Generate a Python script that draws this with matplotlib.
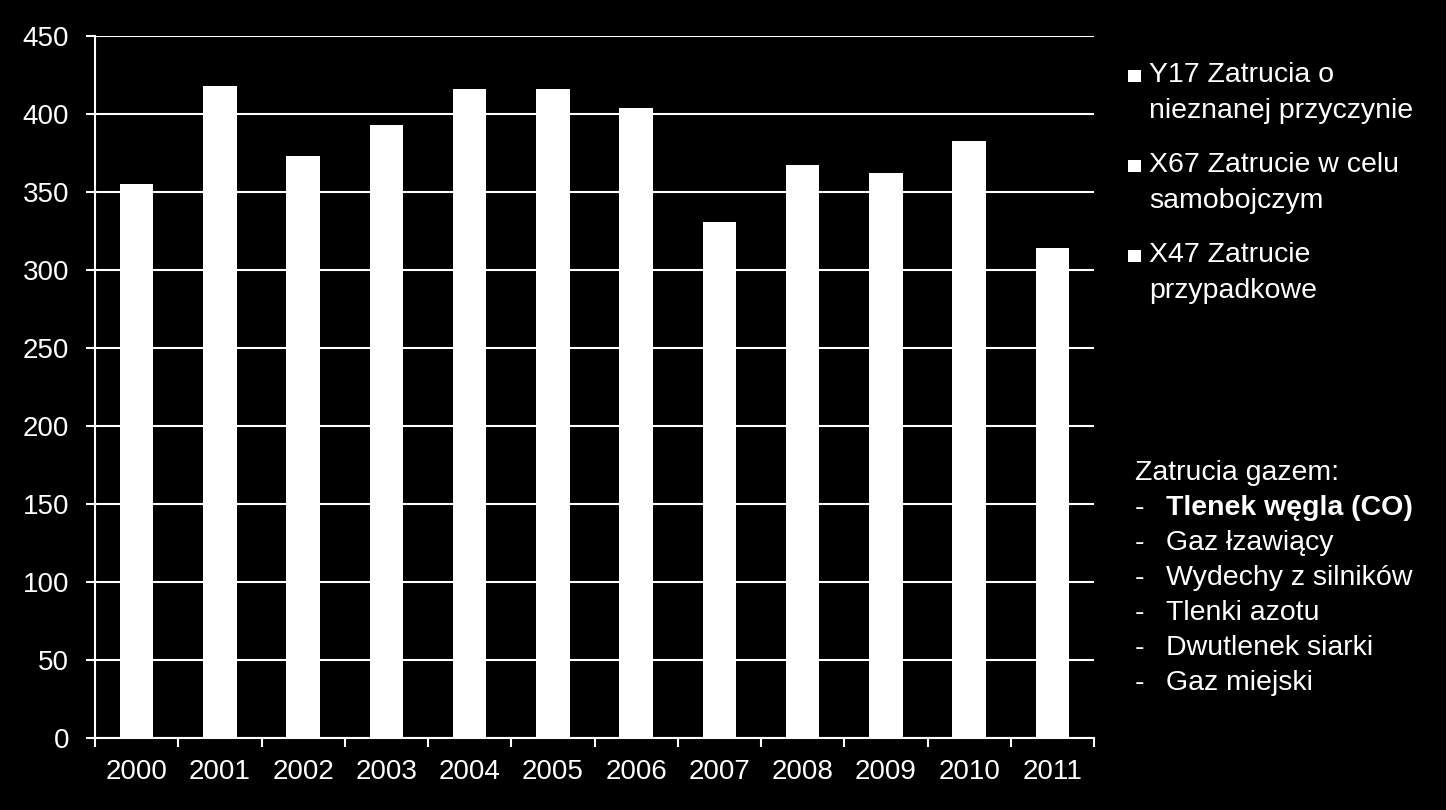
import matplotlib.pyplot as plt
from matplotlib.patches import Rectangle

# dane
lata = ['2000', '2001', '2002', '2003', '2004', '2005', '2006', '2007', '2008', '2009', '2010', '2011']
zatrucia = [355, 418, 373, 393, 416, 416, 404, 331, 367, 362, 383, 314]
serie = ['Y17 Zatrucia o\nnieznanej przyczynie',
         'X67 Zatrucie w celu\nsamobojczym',
         'X47 Zatrucie\nprzypadkowe']
gazy = ['Tlenek węgla (CO)', 'Gaz łzawiący', 'Wydechy z silników',
        'Tlenki azotu', 'Dwutlenek siarki', 'Gaz miejski']

plt.rcParams['font.family'] = ['Liberation Sans', 'DejaVu Sans']
W, H = 1446, 810
FS = 20     # etykiety osi
FS_LEG = 20.5  # legenda i opis

fig = plt.figure(figsize=(W / 100, H / 100), dpi=100, facecolor='black')
ax = fig.add_axes([95 / W, 1 - 738 / H, 999 / W, 702 / H])
ax.set_facecolor('black')

x = range(len(lata))
ax.bar(x, zatrucia, width=0.4, color='white', zorder=3)

ax.set_ylim(0, 450)
ax.set_xlim(-0.5, len(lata) - 0.5)
ax.set_yticks(range(0, 451, 50))
ax.yaxis.grid(True, color='white', linewidth=1.5)
ax.set_axisbelow(True)

# podzialki osi X na granicach kategorii, etykiety pomiedzy
ax.set_xticks([i - 0.5 for i in range(len(lata) + 1)])
ax.set_xticklabels([''] * (len(lata) + 1))
ax.set_xticks(list(x), minor=True)
ax.set_xticklabels(lata, minor=True)
ax.tick_params(axis='x', which='minor', length=0, pad=15, labelsize=FS, labelcolor='white')
ax.tick_params(axis='x', which='major', length=6.5, width=1.5, color='white', direction='out')
ax.tick_params(axis='y', length=6.5, width=1.5, color='white', labelsize=FS, labelcolor='white', pad=12)

for s in ['top', 'right']:
    ax.spines[s].set_visible(False)
for s in ['left', 'bottom']:
    ax.spines[s].set_color('white')
    ax.spines[s].set_linewidth(1.5)

# legenda (biale kwadraty + opisy serii)
for i, s in enumerate(serie):
    yb = 82 + i * 90
    fig.patches.append(Rectangle((1128 / W, 1 - yb / H), 13 / W, 12 / H,
                                 transform=fig.transFigure, facecolor='white', edgecolor='none'))
    for j, l in enumerate(s.split('\n')):
        fig.text(1149 / W, 1 - (yb + j * 36) / H, l, color='white', fontsize=FS_LEG, va='baseline')

fig.text(1135 / W, 1 - 480 / H, 'Zatrucia gazem:', color='white', fontsize=FS_LEG, va='baseline')
for i, g in enumerate(gazy):
    yb = 1 - (515 + i * 35) / H
    fig.text(1135 / W, yb, '-', color='white', fontsize=FS_LEG, va='baseline')
    fig.text(1166 / W, yb, g, color='white', fontsize=FS_LEG, va='baseline',
             fontweight='bold' if i == 0 else 'normal')

fig.savefig('out.png', facecolor='black')
